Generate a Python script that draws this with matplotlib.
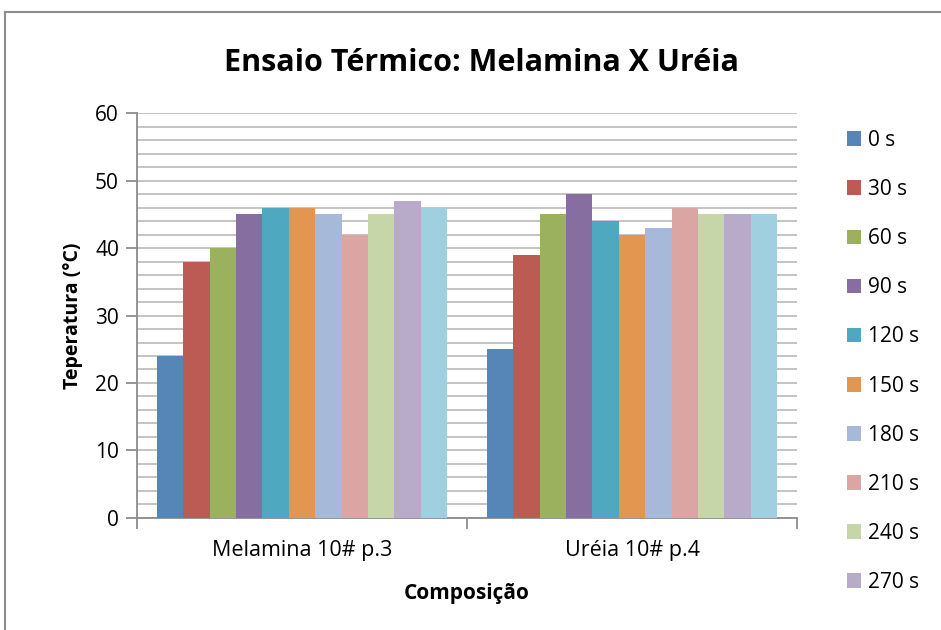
import numpy as np
import matplotlib.pyplot as plt
from matplotlib.lines import Line2D
from matplotlib.ticker import MultipleLocator

plt.rcParams['font.family'] = ['Open Sans', 'DejaVu Sans']

grupos = ['Melamina 10# p.3', 'Uréia 10# p.4']
tempos = ['0 s', '30 s', '60 s', '90 s', '120 s', '150 s',
          '180 s', '210 s', '240 s', '270 s', '300 s']
melamina = [24, 38, 40, 45, 46, 46, 45, 42, 45, 47, 46]
ureia = [25, 39, 45, 48, 44, 42, 43, 46, 45, 45, 45]

cores = ['#5686b8', '#bc5b53', '#9bb15e', '#866fa0', '#4ea9c0', '#e3964f',
         '#a6b9d9', '#daa5a3', '#c6d6a8', '#b7abc9', '#a0cfe0']

fig = plt.figure(figsize=(9.41, 6.3), dpi=100)
ax = fig.add_axes([0.1456, 0.1778, 0.7014, 0.6428])

n = len(tempos)
gap = 1.5
larg = 1.0 / (n + gap)
x0 = np.arange(len(grupos)) + 0.5 - n * larg / 2
barras = []
for i, t in enumerate(tempos):
    b = ax.bar(x0 + (i + 0.5) * larg, [melamina[i], ureia[i]], width=larg,
               color=cores[i], label=t, zorder=3)
    barras.append(b)

ax.set_xlim(0, 2)
ax.set_ylim(0, 60)
ax.yaxis.set_major_locator(MultipleLocator(10))
ax.yaxis.set_minor_locator(MultipleLocator(2))
ax.grid(axis='y', which='both', color='#c4c4c4', linewidth=1.4, zorder=0)

ax.set_xticks([0, 1, 2])
ax.set_xticklabels([])
ax.set_xticks([0.5, 1.5], minor=True)
ax.set_xticklabels(grupos, minor=True, fontsize=15.5)
ax.tick_params(axis='x', which='major', length=8, width=1.3, color='#8c8c8c', direction='out')
ax.tick_params(axis='x', which='minor', length=0, pad=16)
ax.tick_params(axis='y', which='major', length=8, width=1.3, color='#8c8c8c',
               labelsize=15, pad=5)
ax.tick_params(axis='y', which='minor', length=0)

for s in ['top', 'right']:
    ax.spines[s].set_visible(False)
for s in ['left', 'bottom']:
    ax.spines[s].set_color('#8c8c8c')
    ax.spines[s].set_linewidth(1.3)

ax.set_ylabel('Teperatura (°C)', fontsize=14, fontweight='bold', labelpad=9)
ax.set_xlabel('Composição', fontsize=15, fontweight='bold', labelpad=16)

fig.text(0.512, 0.9, 'Ensaio Térmico: Melamina X Uréia', ha='center', va='center',
         fontsize=22, fontweight='bold')

# a legenda só tem espaço para as dez primeiras séries
ax.legend(handles=barras[:10], loc='upper left', bbox_to_anchor=(0.891, 0.807),
          bbox_transform=fig.transFigure, frameon=False, fontsize=15,
          handlelength=0.7, handleheight=0.7, handletextpad=0.3,
          labelspacing=1.35, borderaxespad=0)

# moldura da área do gráfico
fig.add_artist(Line2D([0.005, 1.0], [0.981, 0.981], color='#8c8c8c', linewidth=1.5,
                      transform=fig.transFigure))
fig.add_artist(Line2D([0.005, 0.005], [0.0, 0.981], color='#8c8c8c', linewidth=1.5,
                      transform=fig.transFigure))

fig.savefig('out.png', dpi=100)
